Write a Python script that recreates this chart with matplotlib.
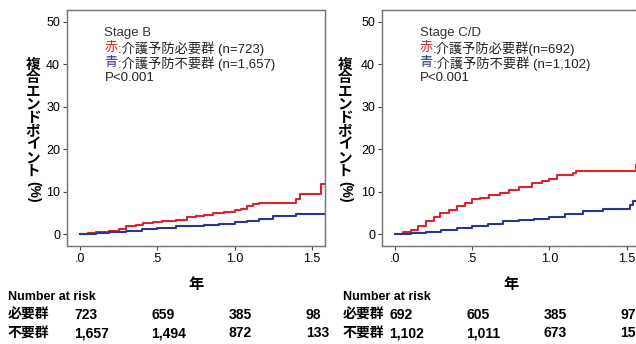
import matplotlib
matplotlib.use("Agg")
from matplotlib import pyplot as plt

plt.rcParams['font.family'] = ['Liberation Sans', 'Noto Sans CJK JP']

# Stage B
b_red_t = [0, 0.05, 0.10, 0.15, 0.19, 0.25, 0.30, 0.36, 0.41, 0.47, 0.53, 0.62,
           0.69, 0.75, 0.80, 0.86, 0.93, 1.00, 1.04, 1.08, 1.12, 1.16, 1.40,
           1.42, 1.56, 1.60]
b_red_v = [0, 0.2, 0.4, 0.6, 0.8, 1.3, 1.8, 2.2, 2.6, 2.9, 3.1, 3.4, 4.0, 4.2,
           4.6, 5.0, 5.2, 5.6, 6.0, 6.6, 7.0, 7.4, 8.2, 9.4, 11.8, 11.8]
b_blue_t = [0, 0.10, 0.19, 0.30, 0.40, 0.50, 0.62, 0.75, 0.80, 0.90, 1.00,
            1.08, 1.16, 1.25, 1.30, 1.40, 1.60]
b_blue_v = [0, 0.3, 0.56, 0.8, 1.1, 1.4, 1.8, 2.0, 2.1, 2.4, 2.9, 3.2, 3.5,
            4.2, 4.3, 4.7, 4.7]

# Stage C/D
cd_red_t = [0, 0.05, 0.10, 0.15, 0.20, 0.25, 0.29, 0.35, 0.40, 0.45, 0.50,
            0.55, 0.61, 0.68, 0.74, 0.80, 0.89, 0.95, 1.00, 1.05, 1.15, 1.17,
            1.55, 1.56, 1.62]
cd_red_v = [0, 0.5, 1.0, 2.0, 3.2, 4.0, 4.9, 5.6, 6.6, 7.4, 8.2, 8.6, 9.1,
            9.8, 10.4, 11.0, 12.0, 12.4, 12.9, 13.9, 14.3, 14.8, 14.8, 16.4,
            16.4]
cd_blue_t = [0, 0.10, 0.20, 0.30, 0.40, 0.50, 0.60, 0.70, 0.80, 0.90, 1.00,
             1.10, 1.22, 1.35, 1.50, 1.52, 1.54, 1.62]
cd_blue_v = [0, 0.3, 0.5, 1.0, 1.5, 2.0, 2.5, 3.0, 3.4, 3.6, 4.0, 4.8, 5.5,
             5.9, 6.0, 6.9, 7.7, 7.7]

risk_times = [0, 0.5, 1.0, 1.5]
b_need = ['723', '659', '385', '98']
b_noneed = ['1,657', '1,494', '872', '133']
cd_need = ['692', '605', '385', '97']
cd_noneed = ['1,102', '1,011', '673', '158']

ylabel = '複合エンドポイント'

RED = '#d7262e'
BLUE = '#2e3591'
W, H = 636, 344

fig = plt.figure(figsize=(6.36, 3.44), dpi=100)


def panel(x0, x1, xmax, title, n_red, n_blue, red, blue, need, noneed,
          ylab_x, tab_x):
    ax = fig.add_axes([x0 / W, 1 - 246 / H, (x1 - x0) / W, 236 / H])
    ax.step(red[0], red[1], where='post', color=RED, lw=1.5)
    ax.step(blue[0], blue[1], where='post', color=BLUE, lw=1.5)
    ax.set_xlim(-0.085, xmax)
    ax.set_ylim(-2.8, 52.8)
    ax.set_yticks([0, 10, 20, 30, 40, 50])
    ax.set_xticks([0, 0.5, 1.0, 1.5])
    ax.set_xticklabels(['.0', '.5', '1.0', '1.5'])
    ax.tick_params(length=3, width=0.8, labelsize=9, color='#444444', pad=2)
    for s in ax.spines.values():
        s.set_color('#777777')
        s.set_linewidth(1.0)
        s.set_linestyle((0, (1, 0.6)))

    fs = 9.5
    ax.text(0.145, 0.902, title, transform=ax.transAxes, fontsize=fs,
            va='center', color='#333333')
    for i, (c, ch, rest) in enumerate([(RED, '赤', n_red), (BLUE, '青', n_blue)]):
        y = 0.838 - i * 0.064
        ax.text(0.145, y, ch, transform=ax.transAxes, fontsize=fs, color=c,
                va='center')
        ax.annotate(rest, xy=(0.145, y), xycoords='axes fraction',
                    xytext=(fs, 0), textcoords='offset points', fontsize=fs,
                    va='center', color='#222222')
    ax.text(0.145, 0.71, 'P<0.001', transform=ax.transAxes, fontsize=fs,
            va='center', color='#222222')

    # vertical y label, one character under the other
    for i, ch in enumerate(ylabel):
        fig.text(ylab_x / W, 1 - (65 + i * 13.3) / H, ch, ha='center',
                 va='center', fontsize=10.5, fontweight='bold')
    fig.text(ylab_x / W, 1 - 192 / H, '(%)', ha='center', va='center',
             rotation=-90, fontsize=10, fontweight='bold')

    # x label
    mid = (ax.transData.transform((0.75, 0))[0])
    fig.text(mid / W, 1 - 285 / H, '年', ha='center', va='center',
             fontsize=11, fontweight='bold')

    # number at risk table
    fig.text(tab_x / W, 1 - 297 / H, 'Number at risk', fontsize=9,
             fontweight='bold', va='center')
    for row, (lab, vals) in enumerate([('必要群', need), ('不要群', noneed)]):
        y = 1 - (315 + row * 18) / H
        fig.text(tab_x / W, y, lab, fontsize=10, fontweight='bold',
                 va='center')
        for t, v in zip(risk_times, vals):
            px = ax.transData.transform((t, 0))[0] - 6
            fig.text(px / W, y, v, fontsize=10, fontweight='bold',
                     va='center')
    return ax


panel(67, 325, 1.585, 'Stage B', ':介護予防必要群 (n=723)',
      ':介護予防不要群 (n=1,657)', (b_red_t, b_red_v), (b_blue_t, b_blue_v),
      b_need, b_noneed, 33, 8)
panel(382, 642, 1.60, 'Stage C/D', ':介護予防必要群(n=692)',
      ':介護予防不要群 (n=1,102)', (cd_red_t, cd_red_v),
      (cd_blue_t, cd_blue_v), cd_need, cd_noneed, 345, 343)

fig.savefig('out.png', dpi=100)
